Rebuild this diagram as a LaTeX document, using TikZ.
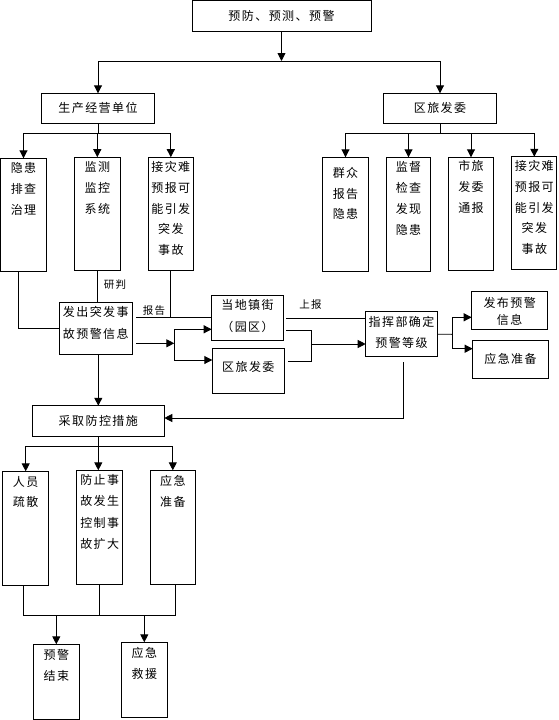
\documentclass[tikz,border=0pt]{standalone}
\usepackage{fontspec}
\newfontfamily\cjk[LetterSpace=12]{Noto Sans CJK SC}
\usetikzlibrary{arrows.meta}
\newcommand\tbox[5][20.7]{\parbox[c][#3pt][t]{#2pt}{\cjk\fontsize{12}{#1}\selectfont\centering\rule{0pt}{#4pt}#5}}
\begin{document}
\begin{tikzpicture}[x=1pt,y=-1pt,
  every node/.style={font=\cjk\fontsize{12}{20.7}\selectfont},
  bx/.style={draw,line width=0.9pt,inner sep=0pt,outer sep=0pt},
  ln/.style={line width=0.9pt},
  arr/.style={line width=0.9pt,-{Triangle[length=8pt,width=8pt]}},
  lab/.style={inner sep=0pt,font=\cjk\fontsize{10.5}{12}\selectfont}]
\path[fill=white] (0,0) rectangle (558,720);
\useasboundingbox (0,0) rectangle (558,720);

% boxes
\node[bx,minimum width=179pt,minimum height=31pt] (top) at (281.5,16.2) {预防、预测、预警};
\node[bx,minimum width=113pt,minimum height=30pt] (pu) at (98,108.3) {生产经营单位};
\node[bx,minimum width=113pt,minimum height=30pt] (qu) at (440,108.3) {区旅发委};

\node[bx] (b1) at (23.5,214.8) {\tbox{46}{113}{14.6}{隐患\\排查\\治理}};
\node[bx] (b2) at (97.3,213.7) {\tbox{46}{113}{14.6}{监测\\监控\\系统}};
\node[bx] (b3) at (170.8,213.7) {\tbox{45}{113}{14.6}{接灾难\\预报可\\能引发\\突发\\事故}};

\node[bx] (r1) at (345.5,214.3) {\tbox{46}{114}{20}{群众\\报告\\隐患}};
\node[bx] (r2) at (408.5,214.3) {\tbox{44}{114}{14.6}{监督\\检查\\发现\\隐患}};
\node[bx] (r3) at (471,214) {\tbox{45}{113.4}{13.3}{市旅\\发委\\通报}};
\node[bx] (r4) at (534.3,212.9) {\tbox{45}{112.3}{13.9}{接灾难\\预报可\\能引发\\突发\\事故}};

\node[bx] (m) at (95.8,328.3) {\tbox[22.3]{73}{52}{14}{发出突发事\\故预警信息}};
\node[bx] (t) at (247.5,317.8) {\tbox[21.7]{71.6}{44.3}{13.9}{当地镇街\\（园区）}};
\node[bx] (q2) at (248.3,370.8) {\tbox{72}{45}{23}{区旅发委}};
\node[bx] (k) at (401.5,334.2) {\tbox[21]{71.6}{45}{14.6}{指挥部确定\\预警等级}};
\node[bx] (p) at (509.7,310.5) {\tbox[17.3]{76}{37.6}{15.6}{发布预警\\信息}};
\node[bx,minimum width=75.6pt,minimum height=38pt] (e) at (510.5,359.3) {应急准备};
\node[bx,minimum width=132pt,minimum height=30.3pt] (c) at (98.3,420.9) {采取防控措施};

\node[bx] (s1) at (25.7,528.3) {\tbox[20]{46}{114}{15}{人员\\疏散}};
\node[bx] (s2) at (99.7,527.3) {\tbox[21.3]{46}{114}{14.3}{防止事\\故发生\\控制事\\故扩大}};
\node[bx] (s3) at (172.8,527.3) {\tbox{45}{114}{15}{应急\\准备}};

\node[bx] (yjjs) at (56.3,681.8) {\tbox{46}{75}{15.3}{预警\\结束}};
\node[bx] (yjjy) at (144.3,679.8) {\tbox{46}{75}{15}{应急\\救援}};

% labels
\node[lab] (yp) at (115,285) {研判};
\node[lab] (bg) at (154,310.5) {报告};
\node[lab] (sb) at (310.5,305) {上报};

% top connectors
\coordinate (j0) at (281.5,61);
\draw[arr] (top.south) -- (j0);
\draw[arr] (j0) -| (pu.north);
\draw[arr] (j0) -| (qu.north);

\coordinate (j1) at (98,133);
\draw[ln] (pu.south) -- (j1);
\draw[arr] (j1) -| (b1.north);
\draw[arr] (j1) -| (b2.north);
\draw[arr] (j1) -| (b3.north);

\coordinate (j2) at (440,133);
\draw[ln] (qu.south) -- (j2);
\draw[arr] (j2) -| (r1.north);
\draw[arr] (j2) -| (r2.north);
\draw[arr] (j2) -| (r3.north);
\draw[arr] (j2) -| (r4.north);

% into m
\draw[ln] ([xshift=-5pt]b1.south) |- (m.west);
\draw[ln] (b2.south) -- (b2.south |- m.north);
\coordinate (h1) at (136,317.8);
\draw[ln] (b3.south) -- (b3.south |- h1);
\draw[ln] (h1) -- (t.west);

% m to fork
\coordinate (fk0) at (136,343.3);
\coordinate (fk1) at (174.3,343.3);
\coordinate (a1) at (174.3,329.3);
\coordinate (a2) at (174.3,360);
\draw[arr] (fk0) -- (fk1);
\draw[ln] (a1) -- (a2);
\draw[arr] (a1) -- (a1 -| t.west);
\draw[arr] (a2) -- (a2 -| q2.west);

% t, q2 to k
\coordinate (u0) at (286,318.3);
\draw[ln] (u0) -- (u0 -| k.west);
\coordinate (g1) at (286,330.7);
\coordinate (g2) at (311,330.7);
\coordinate (g3) at (311,361.7);
\coordinate (g4) at (288.3,361.7);
\draw[ln] (g1) -- (g2) -- (g3) -- (g4);
\coordinate (g5) at (311,344);
\draw[arr] (g5) -- (g5 -| k.west);

% k to p, e
\coordinate (n1) at (452.3,334.3);
\coordinate (n2) at (452.3,317.3);
\coordinate (n3) at (452.3,348.7);
\draw[ln] (k.east) -- (n1);
\draw[ln] (n2) -- (n3);
\draw[arr] (n2) -- (n2 -| p.west);
\draw[arr] (n3) -- (n3 -| e.west);

% k to c
\coordinate (v1) at (403.3,362);
\coordinate (v2) at (403.3,418);
\draw[arr] (v1) -- (v2) -- (v2 -| c.east);

% m to c
\draw[arr] (m.south -| c.north) -- (c.north);

% c to s
\coordinate (w0) at (98.3,446);
\draw[ln] (c.south) -- (w0);
\draw[arr] (w0) -| (s1.north);
\draw[arr] (w0) -- (w0 |- s2.north);
\draw[arr] (w0) -| (s3.north);

% s to end
\coordinate (z1) at (23.3,615.3);
\coordinate (z2) at (175.3,615.3);
\draw[ln] (s1.south -| z1) -- (z1) -- (z2) -- (s3.south -| z2);
\draw[ln] (s2.south) -- (s2.south |- z1);
\draw[arr] (yjjs.north |- z1) -- (yjjs.north);
\draw[arr] (yjjy.north |- z1) -- (yjjy.north);
\end{tikzpicture}
\end{document}
